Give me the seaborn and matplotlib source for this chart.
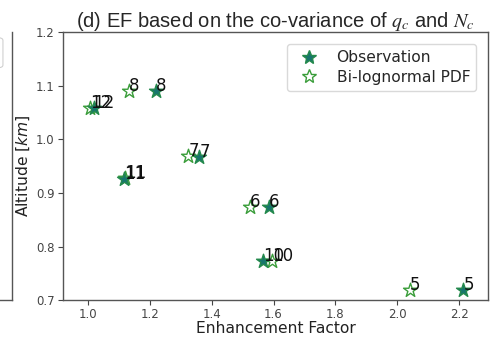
import numpy as np
import pandas as pd
import matplotlib
matplotlib.use("Agg")
import matplotlib.pyplot as plt
import seaborn as sns
from matplotlib.lines import Line2D
from matplotlib.patches import FancyBboxPatch

# ---- data ----
case_labels = ["12", "8", "11", "7", "6", "10", "5"]
obs_ef = [1.018, 1.220, 1.117, 1.360, 1.586, 1.566, 2.214]
obs_alt = [1.058, 1.090, 0.926, 0.967, 0.874, 0.773, 0.719]
pdf_ef = [1.008, 1.133, 1.120, 1.324, 1.524, 1.595, 2.042]
pdf_alt = [1.058, 1.090, 0.928, 0.968, 0.874, 0.773, 0.719]
series_names = ["Observation", "Bi-lognormal PDF"]
x_ticks = [1.0, 1.2, 1.4, 1.6, 1.8, 2.0, 2.2]
y_ticks = [0.7, 0.8, 0.9, 1.0, 1.1, 1.2]

df_obs = pd.DataFrame({"EF": obs_ef, "Alt": obs_alt, "case": case_labels})
df_pdf = pd.DataFrame({"EF": pdf_ef, "Alt": pdf_alt, "case": case_labels})

sns.set_style("white")
plt.rcParams["font.family"] = ["DejaVu Sans"]

fig = plt.figure(figsize=(4.92, 3.38), dpi=100)

# fragment of neighbouring panel on the left
ax0 = fig.add_axes([-0.5, 0.112, 0.5244, 0.793])
ax0.set_xticks([]); ax0.set_yticks([])
for s in ["left", "top"]:
    ax0.spines[s].set_visible(False)
for s in ["right", "bottom"]:
    ax0.spines[s].set_color("#555555")
    ax0.spines[s].set_linewidth(1.0)
fig.patches.append(FancyBboxPatch((-0.05, 0.80), 0.056, 0.088,
                                  boxstyle="round,pad=0,rounding_size=0.008",
                                  transform=fig.transFigure, facecolor="white",
                                  edgecolor="#d0d0d0", linewidth=0.8))

ax = fig.add_axes([0.128, 0.112, 0.864, 0.793])

obs_face = "#17756e"
obs_edge = "#248a4c"
pdf_edge = "#3a9d3a"

sns.scatterplot(data=df_pdf, x="EF", y="Alt", marker="*", s=110,
                facecolor="white", edgecolor=pdf_edge, linewidth=1.0,
                ax=ax, zorder=3, legend=False)
sns.scatterplot(data=df_obs, x="EF", y="Alt", marker="*", s=110,
                color=obs_face, edgecolor=obs_edge, linewidth=1.0,
                ax=ax, zorder=4, legend=False)

for d in (df_obs, df_pdf):
    for xv, yv, lab in zip(d["EF"], d["Alt"], d["case"]):
        ax.text(xv, yv, lab, fontsize=12, color="#111111", zorder=5)

ax.set_xlim(0.919, 2.294)
ax.set_ylim(0.7, 1.2)
ax.set_xticks(x_ticks)
ax.set_yticks(y_ticks)
ax.tick_params(axis="both", labelsize=8.5, colors="#444444", length=3.5,
               direction="out", bottom=True, left=True, width=0.8, pad=2.5)
for s in ax.spines.values():
    s.set_color("#555555")
    s.set_linewidth(1.0)

ax.set_xlabel("Enhancement Factor", fontsize=11.2, color="#222222", labelpad=0)
ax.set_ylabel("Altitude [$km$]", fontsize=11.2, color="#222222", labelpad=3)
ax.set_title("(d) EF based on the co-variance of $q_c$ and $N_c$",
             fontsize=14.5, family="Liberation Sans", math_fontfamily="stix",
             pad=4)

handles = [
    Line2D([], [], marker="*", linestyle="none", markersize=10,
           markerfacecolor=obs_face, markeredgecolor=obs_edge),
    Line2D([], [], marker="*", linestyle="none", markersize=10,
           markerfacecolor="white", markeredgecolor=pdf_edge),
]
ax.legend(handles, series_names, loc="upper right", fontsize=11.2,
          frameon=True, edgecolor="#d0d0d0", borderpad=0.4,
          handletextpad=0.8, labelspacing=0.3, borderaxespad=0.75)

fig.savefig("out.png", dpi=100)
